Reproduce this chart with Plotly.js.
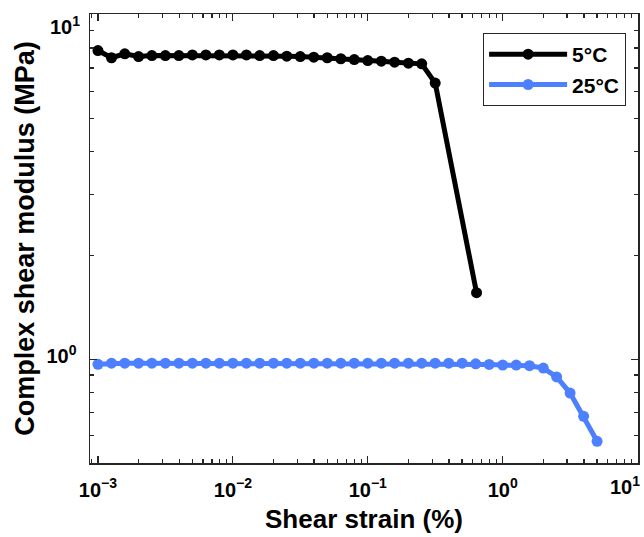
<!DOCTYPE html>
<html>
<head>
<meta charset="utf-8">
<script src="https://cdn.plot.ly/plotly-3.0.1.min.js"></script>
<style>html,body{margin:0;padding:0;background:#fff;}#chart{width:644px;height:537px;}</style>
</head>
<body>
<div id="chart"></div>
<script>
// Shear strain (%) for each series
const strain5C = [0.001, 0.00126, 0.00158, 0.002, 0.00251, 0.00316, 0.00398, 0.00501, 0.00631, 0.00794,
  0.01, 0.0126, 0.0158, 0.02, 0.0251, 0.0316, 0.0398, 0.0501, 0.0631, 0.0794,
  0.1, 0.126, 0.158, 0.2, 0.251, 0.316, 0.64];
const modulus5C = [7.87, 7.50, 7.70, 7.56, 7.61, 7.61, 7.61, 7.64, 7.64, 7.64,
  7.64, 7.64, 7.61, 7.61, 7.58, 7.56, 7.53, 7.50, 7.45, 7.41,
  7.36, 7.33, 7.28, 7.23, 7.20, 6.33, 1.56];

const strain25C = [0.001, 0.00126, 0.00158, 0.002, 0.00251, 0.00316, 0.00398, 0.00501, 0.00631, 0.00794,
  0.01, 0.0126, 0.0158, 0.02, 0.0251, 0.0316, 0.0398, 0.0501, 0.0631, 0.0794,
  0.1, 0.126, 0.158, 0.2, 0.251, 0.316, 0.398, 0.501, 0.631, 0.794,
  1.0, 1.26, 1.58, 2.0, 2.51, 3.16, 3.98, 5.01];
const modulus25C = [0.967, 0.974, 0.974, 0.974, 0.974, 0.974, 0.974, 0.974, 0.974, 0.974,
  0.974, 0.974, 0.974, 0.974, 0.974, 0.974, 0.974, 0.974, 0.974, 0.974,
  0.974, 0.974, 0.974, 0.974, 0.974, 0.974, 0.974, 0.974, 0.970, 0.966,
  0.962, 0.962, 0.958, 0.943, 0.889, 0.798, 0.683, 0.578];

const seriesNames = ['5°C', '25°C'];

// tick labels; the two edge labels (x = 10, y = 10) are placed as annotations so they stay inside the page
const xTickVals = [0.001, 0.01, 0.1, 1, 10];
const xTickText = ['10<sup>−3</sup>', '10<sup>−2</sup>', '10<sup>−1</sup>', '10<sup>0</sup>', ''];
const xEdgeLabel = '10<sup>1</sup>';
const yTickVals = [1, 10];
const yTickText = ['10<sup>0</sup>', ''];
const yEdgeLabel = '10<sup>1</sup>';

function minorLog(lo, hi) {
  const out = [];
  for (let e = lo; e <= hi; e++) {
    for (let m = 2; m <= 9; m++) out.push(m * Math.pow(10, e));
  }
  return out;
}
const xMinor = [0.0009].concat(minorLog(-3, 0));
const yMinor = minorLog(-1, 0).filter(v => v > 0.5);

const fontFam = 'Arial, "Liberation Sans", sans-serif';
const blue = '#4d80ff';
const tickFont = {family: fontFam, size: 20, color: '#000', weight: 'bold'};

const traces = [
  {x: strain5C, y: modulus5C, name: seriesNames[0], type: 'scatter', mode: 'lines+markers',
   line: {color: '#000000', width: 5}, marker: {color: '#000000', size: 11}},
  {x: strain25C, y: modulus25C, name: seriesNames[1], type: 'scatter', mode: 'lines+markers',
   line: {color: blue, width: 5}, marker: {color: blue, size: 11}}
];

const axisCommon = {
  type: 'log', showgrid: false, zeroline: false,
  showline: true, linecolor: '#262626', linewidth: 1.5, mirror: 'ticks',
  ticks: 'inside', ticklen: 7, tickwidth: 1.2, tickcolor: '#262626',
  tickfont: tickFont,
  tickmode: 'array'
};

const layout = {
  width: 644, height: 537,
  margin: {l: 90, r: 6, t: 14, b: 74},
  paper_bgcolor: '#ffffff', plot_bgcolor: '#ffffff',
  showlegend: true,
  legend: {x: 0.717, y: 0.958, xanchor: 'left', yanchor: 'top',
    bordercolor: '#262626', borderwidth: 1.2, bgcolor: '#ffffff',
    font: {family: fontFam, size: 21, color: '#000', weight: 'bold'},
    itemwidth: 78, tracegroupgap: 0},
  xaxis: Object.assign({}, axisCommon, {
    range: [-3.059, 1.003],
    tickvals: xTickVals, ticktext: xTickText,
    ticklabelstandoff: 8,
    minor: {tickmode: 'array', tickvals: xMinor, ticks: 'inside', ticklen: 4, tickwidth: 1.2, tickcolor: '#262626'},
    title: {text: 'Shear strain (%)', font: {family: fontFam, size: 26, color: '#000', weight: 'bold'}, standoff: 10}
  }),
  yaxis: Object.assign({}, axisCommon, {
    range: [Math.log10(0.5), 1.002],
    tickvals: yTickVals, ticktext: yTickText,
    ticklabelstandoff: 8, ticklabelshift: -3,
    minor: {tickmode: 'array', tickvals: yMinor, ticks: 'inside', ticklen: 4, tickwidth: 1.2, tickcolor: '#262626'},
    title: {text: 'Complex shear modulus (MPa)', font: {family: fontFam, size: 27, color: '#000', weight: 'bold'}, standoff: 4}
  }),
  annotations: [
    {text: xEdgeLabel, xref: 'x', x: Math.log10(xTickVals[4]), yref: 'paper', y: 0,
     xanchor: 'right', yanchor: 'top', xshift: 4, yshift: -8, showarrow: false, font: tickFont},
    {text: yEdgeLabel, xref: 'paper', x: 0, yref: 'y', y: Math.log10(yTickVals[1]),
     xanchor: 'right', yanchor: 'middle', xshift: -8, yshift: -11, showarrow: false, font: tickFont}
  ]
};

Plotly.newPlot('chart', traces, layout, {displayModeBar: false, staticPlot: true});
</script>
</body>
</html>
